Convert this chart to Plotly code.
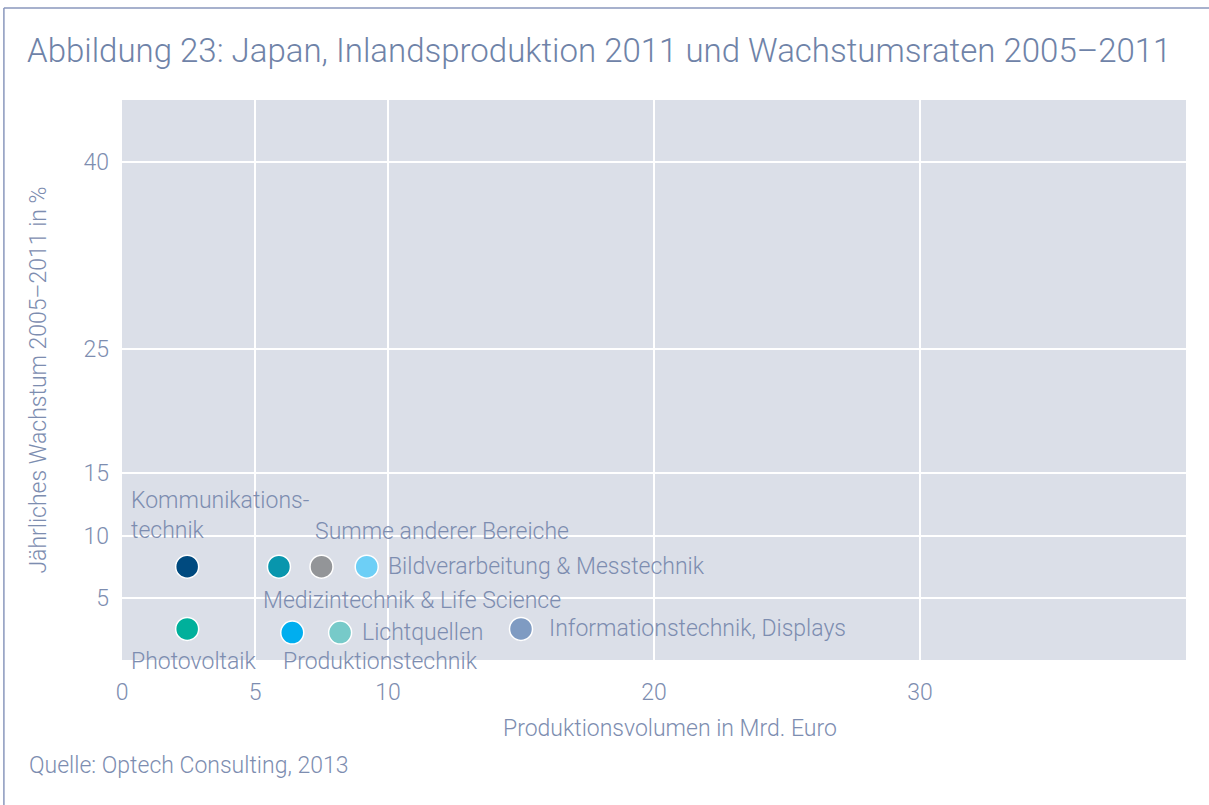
import plotly.graph_objects as go

# Inland production 2011 (bn EUR) and annual growth 2005-2011 (%) per segment
segments = [
    "Kommunikations-<br>technik",
    "Medizintechnik & Life Science",
    "Summe anderer Bereiche",
    "Bildverarbeitung & Messtechnik",
    "Photovoltaik",
    "Produktionstechnik",
    "Lichtquellen",
    "Informationstechnik, Displays",
]
volume = [2.45, 5.9, 7.5, 9.2, 2.45, 6.4, 8.2, 15.0]
growth = [7.5, 7.5, 7.5, 7.5, 2.5, 2.2, 2.2, 2.5]
colors = ["#004a7f", "#0896ad", "#939598", "#6dcff6",
          "#00b09b", "#00aeef", "#77cac9", "#7f9bc2"]

x_ticks = [0, 5, 10, 20, 30]
y_ticks = [5, 10, 15, 25, 40]

# label placement: (xanchor, yanchor, xshift, yshift)
label_pos = [
    ("left", "bottom", -58, 21),
    ("left", "top", -18, -18),
    ("left", "bottom", -9, 20),
    ("left", "middle", 19, 0),
    ("left", "top", -58, -17),
    ("left", "top", -11, -13),
    ("left", "middle", 20, 0),
    ("left", "middle", 26, 0),
]

TEXT = "#7d8db0"
FONT = "Roboto"
SIZE = 23

fig = go.Figure()
fig.add_trace(go.Scatter(
    x=volume, y=growth, mode="markers",
    marker=dict(size=23, color=colors, line=dict(color="white", width=1.5)),
    hoverinfo="skip", showlegend=False,
))

for name, xv, yv, (xa, ya, dx, dy) in zip(segments, volume, growth, label_pos):
    fig.add_annotation(
        x=xv, y=yv, text=name, showarrow=False, xanchor=xa, yanchor=ya,
        xshift=dx, yshift=dy, align="left",
        font=dict(family=FONT, size=SIZE, color=TEXT, weight=300),
    )

fig.add_annotation(
    x=0.515, y=-0.094, xref="paper", yref="paper", yanchor="top",
    text="Produktionsvolumen in Mrd. Euro", showarrow=False,
    font=dict(family=FONT, size=SIZE, color=TEXT, weight=300),
)
fig.add_annotation(
    x=-0.0897, y=-0.16, xref="paper", yref="paper", xanchor="left", yanchor="top",
    text="Quelle: Optech Consulting, 2013", showarrow=False,
    font=dict(family=FONT, size=SIZE, color=TEXT, weight=300),
)

# outer frame lines (top and left)
fig.add_shape(type="line", xref="paper", yref="paper",
              x0=-0.111, x1=1.1, y0=1.1643, y1=1.1643,
              line=dict(color="#8a97bd", width=1.5))
fig.add_shape(type="line", xref="paper", yref="paper",
              x0=-0.111, x1=-0.111, y0=1.1643, y1=-0.3,
              line=dict(color="#8a97bd", width=1.5))

fig.update_layout(
    width=1209, height=805,
    margin=dict(l=122, r=23, t=100, b=145),
    paper_bgcolor="white",
    plot_bgcolor="#dbdfe8",
    title=dict(
        text="Abbildung 23: Japan, Inlandsproduktion 2011 und Wachstumsraten 2005–2011",
        x=27 / 1209, xanchor="left", y=1 - 50 / 805, yanchor="middle",
        font=dict(family=FONT, size=33, color="#6f83a8", weight=300),
    ),
    xaxis=dict(
        range=[0, 40], tickvals=x_ticks, ticktext=[str(v) for v in x_ticks],
        showgrid=True, gridcolor="white", gridwidth=1.5,
        zeroline=False, showline=False, ticks="",
        ticklabelstandoff=16,
        tickfont=dict(family=FONT, size=SIZE, color=TEXT, weight=300),
    ),
    yaxis=dict(
        range=[0, 45], tickvals=y_ticks, ticktext=[str(v) for v in y_ticks],
        showgrid=True, gridcolor="white", gridwidth=1.5,
        zeroline=False, showline=False, ticks="",
        ticklabelstandoff=12,
        title=dict(text="Jährliches Wachstum 2005–2011 in %", standoff=30,
                   font=dict(family=FONT, size=SIZE, color=TEXT, weight=300)),
        tickfont=dict(family=FONT, size=SIZE, color=TEXT, weight=300),
    ),
)

fig.write_html("out.html")
